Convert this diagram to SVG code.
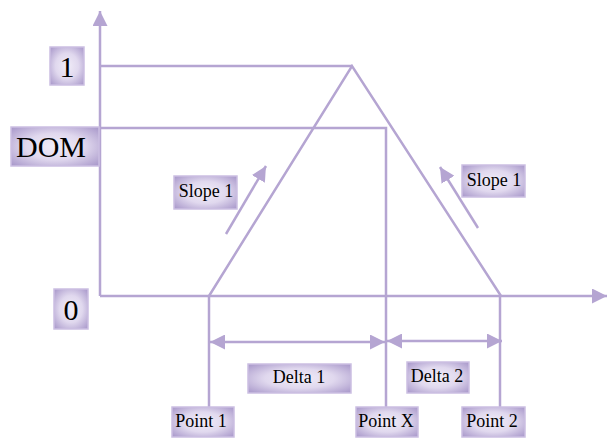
<svg xmlns="http://www.w3.org/2000/svg" width="608" height="438" viewBox="0 0 608 438">
  <style>
    .ln { stroke: #b5a5d2; stroke-width: 2.5; fill: none; }
    .box { fill: url(#boxfill); stroke: #cbbfe2; stroke-width: 1.5; }
    text { font-family: "Liberation Serif", "Times New Roman", serif; fill: #000; text-anchor: middle; }
    .big { font-size: 30px; }
    .sm { font-size: 18px; }
  </style>
  <defs>
    <radialGradient id="boxfill" cx="0.5" cy="0.5" r="0.75">
      <stop offset="0" stop-color="#f1edf8"/>
      <stop offset="0.45" stop-color="#e0d8ee"/>
      <stop offset="1" stop-color="#9f8dc4"/>
    </radialGradient>
    <marker id="ah" viewBox="0 0 10 10" refX="10" refY="5" markerWidth="6" markerHeight="6" orient="auto-start-reverse" markerUnits="strokeWidth">
      <path d="M0,0 L10,5 L0,10 z" fill="#b5a5d2"/>
    </marker>
  </defs>

  <g id="connectors">
    <!-- axes -->
    <line class="ln" x1="100" y1="296" x2="100" y2="11" marker-end="url(#ah)"/>
    <line class="ln" x1="100" y1="296" x2="607" y2="296" marker-end="url(#ah)"/>
    <!-- membership level lines -->
    <line class="ln" x1="100" y1="66" x2="352" y2="66"/>
    <polyline class="ln" points="100,128 386,128 386,408"/>
    <!-- triangle -->
    <polyline class="ln" points="209,296 352,66 501,296"/>
    <!-- point drop lines -->
    <line class="ln" x1="209" y1="296" x2="209" y2="408"/>
    <line class="ln" x1="500" y1="296" x2="500" y2="408"/>
    <!-- delta spans -->
    <line class="ln" x1="210" y1="342" x2="385" y2="342" marker-start="url(#ah)" marker-end="url(#ah)"/>
    <line class="ln" x1="387" y1="341" x2="502" y2="341" marker-start="url(#ah)" marker-end="url(#ah)"/>
    <!-- slope arrows -->
    <line class="ln" x1="226" y1="234" x2="266" y2="166" marker-end="url(#ah)"/>
    <line class="ln" x1="478" y1="228" x2="440" y2="167" marker-end="url(#ah)"/>
  </g>

  <g id="label-one">
    <rect class="box" x="50" y="47" width="34" height="38"/>
    <text class="big" x="67" y="77">1</text>
  </g>
  <g id="label-dom">
    <rect class="box" x="11" y="127" width="88" height="39"/>
    <text class="big" x="51" y="157">DOM</text>
  </g>
  <g id="label-zero">
    <rect class="box" x="54" y="289" width="34" height="40"/>
    <text class="big" x="71" y="320">0</text>
  </g>
  <g id="slope-left">
    <rect class="box" x="174" y="176" width="63" height="33"/>
    <text class="sm" x="206" y="197">Slope 1</text>
  </g>
  <g id="slope-right">
    <rect class="box" x="462" y="165" width="63" height="32"/>
    <text class="sm" x="494" y="186">Slope 1</text>
  </g>
  <g id="delta-1">
    <rect class="box" x="248" y="364" width="103" height="29"/>
    <text class="sm" x="299" y="383">Delta 1</text>
  </g>
  <g id="delta-2">
    <rect class="box" x="407" y="362" width="62" height="31"/>
    <text class="sm" x="437" y="382">Delta 2</text>
  </g>
  <g id="point-1">
    <rect class="box" x="172" y="407" width="62" height="30"/>
    <text class="sm" x="201" y="427">Point 1</text>
  </g>
  <g id="point-x">
    <rect class="box" x="356" y="407" width="62" height="30"/>
    <text class="sm" x="386" y="427">Point X</text>
  </g>
  <g id="point-2">
    <rect class="box" x="462" y="407" width="63" height="30"/>
    <text class="sm" x="492" y="427">Point 2</text>
  </g>
</svg>
